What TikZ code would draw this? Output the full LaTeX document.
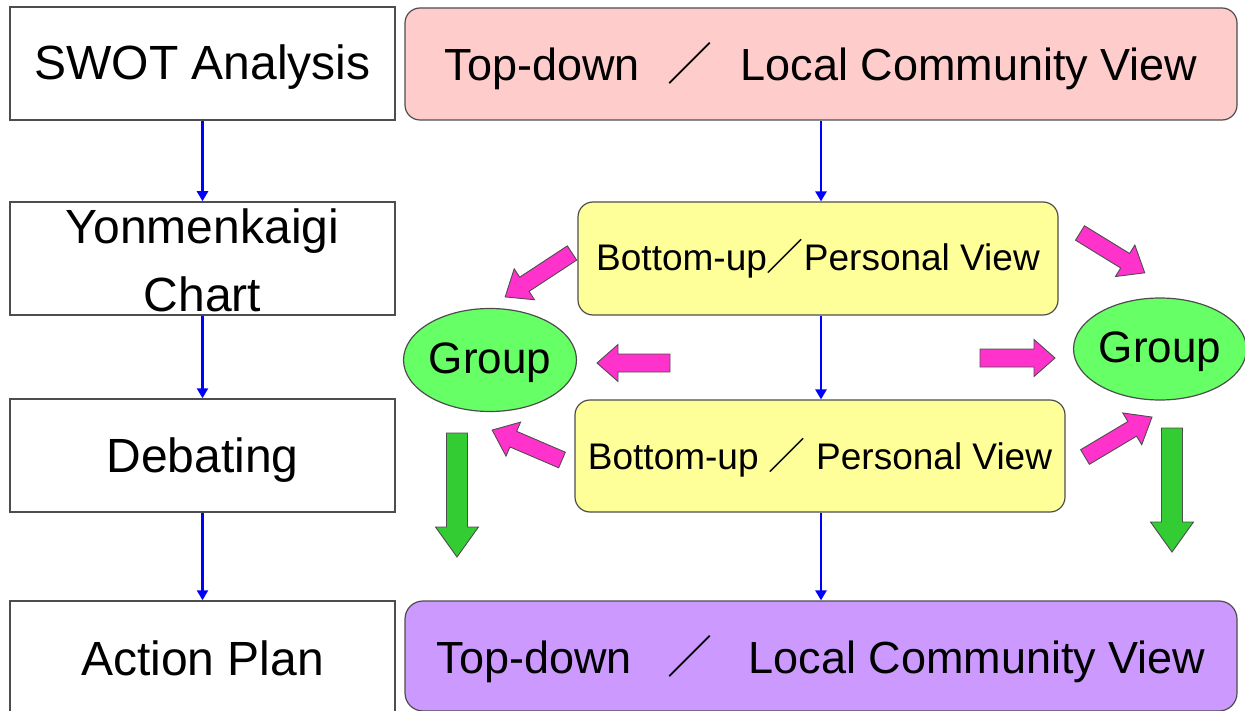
\documentclass[tikz,border=0pt]{standalone}
\usepackage{fontspec}
\setmainfont{Liberation Sans}
\newfontfamily\cjk{Noto Sans CJK JP}
\usetikzlibrary{arrows.meta,shapes.geometric}

\definecolor{pinkfill}{HTML}{FFCCCC}
\definecolor{yellowfill}{HTML}{FFFF99}
\definecolor{violetfill}{HTML}{CC99FF}
\definecolor{groupfill}{HTML}{66FF66}
\definecolor{magentaarrow}{HTML}{FF33CC}
\definecolor{greenarrow}{HTML}{33CC33}
\definecolor{edgegray}{HTML}{4D4D4D}

% lower a label inside its node without changing the node size
\newcommand\dropby[2]{\raisebox{-#1}[\height][\depth]{#2}}

\tikzset{
  stagebox/.style={draw=edgegray, line width=1.5pt, fill=white, inner sep=0pt,
    minimum width=385pt, font=\fontsize{48}{56}\selectfont},
  viewbox/.style={draw=edgegray, line width=1.2pt, rounded corners=15pt, inner sep=0pt},
  bigview/.style={viewbox, font=\fontsize{45}{52}\selectfont},
  smallview/.style={viewbox, fill=yellowfill, font=\fontsize{37}{44}\selectfont},
  groupnode/.style={ellipse, draw=edgegray, line width=1.2pt, fill=groupfill, inner sep=0pt,
    minimum width=170pt, minimum height=103pt, font=\fontsize{44}{50}\selectfont},
  flow/.style={draw=blue, line width=2.8pt, -{Triangle[width=11pt,length=10pt]}},
  pinkblock/.style={fill=magentaarrow, draw=edgegray, line width=0.9pt},
  greenblock/.style={fill=greenarrow, draw=edgegray, line width=0.9pt},
}

% block arrow: style, tail point, direction angle, length,
% shaft half width, head half width, head length (all in pt)
\newcommand\fatarrow[7]{%
  \begin{scope}[shift={#2}, rotate=#3]
    \filldraw[#1] (0pt,-#5pt) -- ({#4pt-#7pt},-#5pt) -- ({#4pt-#7pt},-#6pt)
      -- (#4pt,0pt) -- ({#4pt-#7pt},#6pt) -- ({#4pt-#7pt},#5pt) -- (0pt,#5pt) -- cycle;
  \end{scope}}

\begin{document}
\begin{tikzpicture}[x=1pt, y=-1pt]
\useasboundingbox (0,0) rectangle (1245,711);

% left column: stages
\node[stagebox, minimum height=113pt] (swot) at (202.5,63.5) {\dropby{4pt}{SWOT Analysis}};
\node[stagebox, minimum height=113pt] (yon) at (202.5,258.5) {};
\node[font=\fontsize{48}{68}\selectfont, align=center, inner sep=0pt] (yontext) at (202.5,260) {Yonmenkaigi\\Chart};
\node[stagebox, minimum height=113pt] (deb) at (202.5,455.5) {\dropby{5pt}{Debating}};
\node[stagebox, minimum height=112pt] (act) at (202.5,657) {\dropby{1pt}{Action Plan}};

\draw[flow] (swot) -- (yon);
\draw[flow] (yon) -- (deb);
\draw[flow] (deb) -- (act);

% right column: views
\node[bigview, fill=pinkfill, minimum width=832pt, minimum height=112pt] (top) at (821,64)
  {\dropby{2pt}{Top-down\hspace{28pt}{\cjk ／}\hspace{28pt}Local Community View}};
\node[smallview, minimum width=480pt, minimum height=113pt] (y1) at (818,258.5)
  {Bottom-up{\cjk ／}Personal View};
\node[smallview, minimum width=490pt, minimum height=112pt] (y2) at (820,456)
  {\dropby{2pt}{Bottom-up {\cjk ／} Personal View}};
\node[bigview, fill=violetfill, rounded corners=18pt, minimum width=832pt, minimum height=110pt] (plan) at (821,656)
  {\dropby{3pt}{Top-down\hspace{36pt}{\cjk ／}\hspace{36pt}Local Community View}};

\draw[flow] (top.south) -- (top.south |- y1.north);
\draw[flow] (top.south |- y1.south) -- (top.south |- y2.north);
\draw[flow] (top.south |- y2.south) -- (top.south |- plan.north);

% groups
\node[groupnode] (gl) at (490,360) {\dropby{3pt}{Group}};
\node[groupnode, minimum height=102pt] (gr) at (1160,349) {\dropby{3pt}{Group}};

% pink block arrows towards the groups
\fatarrow{pinkblock}{(572,253)}{213.3}{80}{8.5}{18.5}{23}
\fatarrow{pinkblock}{(670,363)}{180}{73}{9}{18.5}{21}
\fatarrow{pinkblock}{(562,460)}{156.8}{76}{8.5}{18.5}{23}
\fatarrow{pinkblock}{(1080,233)}{-31.6}{76}{8.5}{18.5}{23}
\fatarrow{pinkblock}{(980,358)}{0}{75}{9}{18.5}{21}
\fatarrow{pinkblock}{(1085,457)}{30.8}{78}{8.5}{18.5}{23}

% green block arrows below the groups
\fatarrow{greenblock}{(457,433)}{-90}{124}{10.5}{21.5}{30}
\fatarrow{greenblock}{(1172,428)}{-90}{124}{10.5}{21.5}{30}
\end{tikzpicture}
\end{document}
